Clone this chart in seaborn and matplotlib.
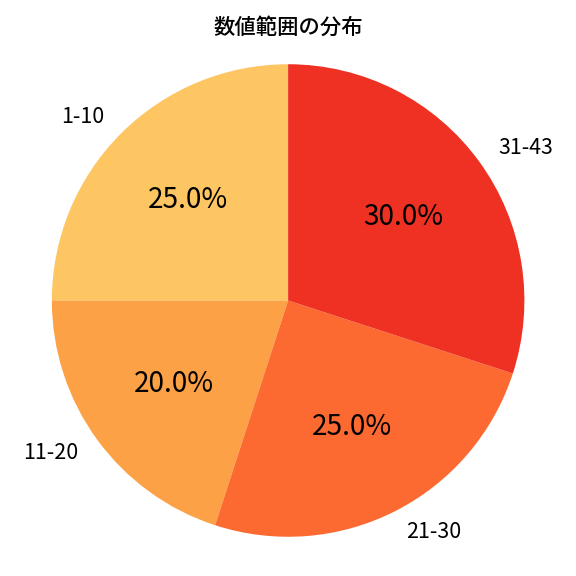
import matplotlib
matplotlib.use("Agg")
import matplotlib.pyplot as plt
import seaborn as sns

labels = ["1-10", "11-20", "21-30", "31-43"]
values = [25.0, 20.0, 25.0, 30.0]
colors = ["#FEC662", "#FCA145", "#FC6A32", "#EE3123"]

sns.set_theme(style="white")
plt.rcParams["font.family"] = ["Noto Sans CJK JP", "DejaVu Sans"]

fig, ax = plt.subplots(figsize=(6, 6), dpi=96)
wedges, texts, autotexts = ax.pie(
    values, labels=labels, colors=colors, autopct="%1.1f%%",
    startangle=90, counterclock=True,
    wedgeprops={"linewidth": 0},
    textprops={"fontsize": 16, "color": "black"},
)
for t in autotexts:
    t.set_fontsize(21)
ax.set_title("数値範囲の分布", fontsize=16, color="black", fontweight="medium")
ax.axis("equal")
plt.tight_layout()
plt.savefig("out.png", dpi=96)
